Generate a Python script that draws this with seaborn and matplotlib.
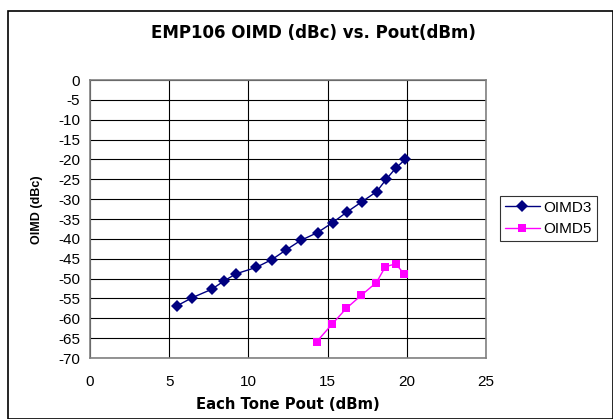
import matplotlib
matplotlib.use("Agg")
import matplotlib.pyplot as plt
import seaborn as sns
import pandas as pd
from matplotlib.patches import Rectangle

oimd3_x = [5.47, 6.46, 7.68, 8.46, 9.22, 10.48, 11.49, 12.37, 13.3, 14.37, 15.32, 16.2, 17.15, 18.1, 18.7, 19.3, 19.9]
oimd3_y = [-56.9, -54.8, -52.7, -50.6, -48.8, -47.2, -45.2, -42.8, -40.4, -38.4, -35.9, -33.3, -30.7, -28.1, -25.0, -22.2, -20.0]
oimd5_x = [14.31, 15.28, 16.18, 17.13, 18.08, 18.65, 19.3, 19.85]
oimd5_y = [-65.9, -61.5, -57.5, -54.2, -51.0, -47.0, -46.3, -48.9]
x_ticks = [0, 5, 10, 15, 20, 25]
y_ticks = list(range(0, -75, -5))

df = pd.concat([
    pd.DataFrame({"x": oimd3_x, "y": oimd3_y, "series": "OIMD3"}),
    pd.DataFrame({"x": oimd5_x, "y": oimd5_y, "series": "OIMD5"}),
])

sns.set_style("white")
plt.rcParams['font.family'] = ['Liberation Sans', 'DejaVu Sans']
plt.rcParams.update({'text.color': 'black', 'axes.labelcolor': 'black',
                     'xtick.color': 'black', 'ytick.color': 'black'})

W, H = 613, 419
fig = plt.figure(figsize=(W/100, H/100), dpi=100)
fig.patches.append(Rectangle((8/W, 0), (W-8)/W - 0.0005, (H-11)/H, transform=fig.transFigure,
                             fill=False, edgecolor='black', linewidth=1.2))
ax = fig.add_axes([90/W, 1-358/H, (486-90)/W, (358-80)/H])

sns.lineplot(data=df, x="x", y="y", hue="series", style="series",
             palette={"OIMD3": "#000080", "OIMD5": "#FF00FF"},
             markers={"OIMD3": "D", "OIMD5": "s"}, dashes=False,
             markersize=6, markeredgewidth=0, linewidth=1, sort=False, ax=ax)

ax.set_xlim(0, 25)
ax.set_ylim(-70, 0)
ax.set_xticks(x_ticks)
ax.set_yticks(y_ticks)
ax.set_xticklabels([str(t) for t in x_ticks], fontsize=11, color='black')
ax.set_yticklabels([str(t) for t in y_ticks], fontsize=11, color='black')
ax.grid(True, color='black', linewidth=0.8)
ax.tick_params(axis='both', length=4, width=0.8, color='black', labelcolor='black',
               direction='out', pad=3)
ax.tick_params(axis='x', pad=8)
for s in ax.spines.values():
    s.set_color('#808080')
    s.set_linewidth(1.2)
ax.set_xlabel("Each Tone Pout (dBm)", fontsize=10.7, fontweight='bold', labelpad=6,
              family=['DejaVu Sans'], color='black')
ax.set_ylabel("OIMD (dBc)", fontsize=9, fontweight='bold', color='black')
ax.yaxis.set_label_coords(43/W, 0.5, transform=fig.transFigure)
fig.text(313/W, 1-33/H, "EMP106 OIMD (dBc) vs. Pout(dBm)", ha='center', va='center',
         fontsize=12, fontweight='bold', family=['DejaVu Sans'], color='black')

leg = ax.legend(title=None, loc='upper left', bbox_to_anchor=(500/W, 1-196/H),
                bbox_transform=fig.transFigure, frameon=True, fancybox=False,
                fontsize=11, handlelength=2.3, borderpad=0.3, labelspacing=0.5,
                handletextpad=0.25, borderaxespad=0, labelcolor='black')
leg.get_frame().set_edgecolor('black')
leg.get_frame().set_linewidth(0.8)

fig.savefig("out.png", dpi=100)
